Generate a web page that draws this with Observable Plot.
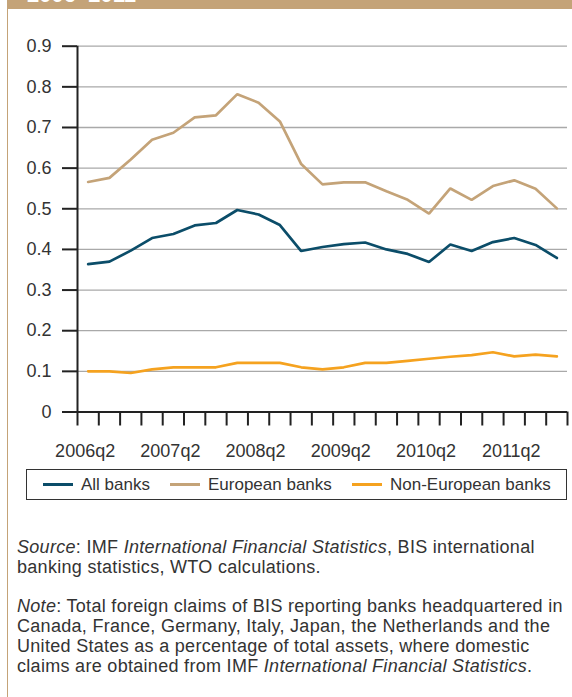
<!DOCTYPE html>
<html>
<head>
<meta charset="utf-8">
<script src="https://cdn.jsdelivr.net/npm/d3@7"></script>
<script src="https://cdn.jsdelivr.net/npm/@observablehq/plot@0.6"></script>
<style>
  html, body { margin: 0; padding: 0; background: #fff; }
  body { width: 572px; height: 697px; position: relative; overflow: hidden; font-family: "Liberation Sans", Arial, sans-serif; color: #333; }
  #banner { position: absolute; left: 7px; top: 0; width: 565px; height: 9px; background: #c4a378; overflow: hidden; }
  #banner span { position: absolute; left: 20px; top: -16px; font-size: 22px; line-height: 1; font-weight: bold; color: #fff; white-space: nowrap; }
  #leftrule { position: absolute; left: 7px; top: 0; width: 1px; height: 697px; background: #c4a378; z-index: 2; }
  #chart { position: absolute; left: 0; top: 0; }
  #legend { position: absolute; left: 26px; top: 469px; width: 539px; height: 29px; border: 1.5px solid #333; font-size: 17px; }
  .item { display: flex; align-items: center; position: absolute; top: 0; height: 29px; }
  .sw { width: 30px; height: 3px; margin-right: 8px; }
  #caption { position: absolute; left: 17px; top: 538px; width: 560px; font-size: 18px; letter-spacing: 0.3px; line-height: 19.7px; color: #333; white-space: nowrap; }
  #caption p { margin: 0 0 20px 0; }
</style>
</head>
<body>
<div id="banner"><span>2006–2011</span></div>
<div id="leftrule"></div>
<div id="chart"></div>
<div id="legend"></div>
<div id="caption">
  <p><i>Source</i>: IMF <i>International Financial Statistics</i>, BIS international<br>banking statistics, WTO calculations.</p>
  <p><i>Note</i>: Total foreign claims of BIS reporting banks headquartered in<br>Canada, France, Germany, Italy, Japan, the Netherlands and the<br>United States as a percentage of total assets, where domestic<br>claims are obtained from IMF <i>International Financial Statistics</i>.</p>
</div>
<script>
const quarters = ["2006q2","2006q3","2006q4","2007q1","2007q2","2007q3","2007q4","2008q1","2008q2","2008q3","2008q4","2009q1","2009q2","2009q3","2009q4","2010q1","2010q2","2010q3","2010q4","2011q1","2011q2","2011q3","2011q4"];
const allBanks = [0.364,0.370,0.397,0.428,0.438,0.459,0.465,0.497,0.486,0.460,0.396,0.406,0.413,0.417,0.400,0.389,0.369,0.412,0.396,0.418,0.428,0.411,0.379];
const europeanBanks = [0.566,0.576,0.621,0.670,0.687,0.725,0.730,0.782,0.761,0.715,0.610,0.560,0.565,0.565,0.543,0.522,0.488,0.550,0.522,0.556,0.570,0.549,0.501];
const nonEuropeanBanks = [0.100,0.100,0.096,0.105,0.110,0.110,0.110,0.121,0.121,0.121,0.110,0.105,0.110,0.121,0.121,0.126,0.131,0.136,0.140,0.147,0.137,0.141,0.137];
const seriesNames = ["All banks","European banks","Non-European banks"];
const seriesColors = ["#0b4d69","#c4a378","#f5a21f"];
const yTicks = [0,0.1,0.2,0.3,0.4,0.5,0.6,0.7,0.8,0.9];
const xLabelQuarters = ["2006q2","2007q2","2008q2","2009q2","2010q2","2011q2"];

const seriesValues = [allBanks, europeanBanks, nonEuropeanBanks];
const data = [];
seriesNames.forEach((s, k) => seriesValues[k].forEach((v, i) => data.push({series: s, i, v})));
const n = quarters.length;
const boundaries = d3.range(n + 1).map(i => i - 0.5);
const labelIdx = xLabelQuarters.map(q => quarters.indexOf(q));

const plot = Plot.plot({
  width: 572,
  height: 465,
  marginTop: 45.7,
  marginBottom: 53.5,
  marginLeft: 77,
  marginRight: 5,
  style: {fontFamily: "Liberation Sans, Arial, sans-serif", fontSize: "18px", color: "#333", background: "transparent", overflow: "visible"},
  x: {type: "linear", domain: [-0.5, n - 0.5]},
  y: {domain: [0, 0.9]},
  color: {domain: seriesNames, range: seriesColors},
  marks: [
    Plot.ruleY(yTicks.filter(d => d > 0), {stroke: "#a9a9a9", strokeWidth: 1.3}),
    Plot.line(data, {x: "i", y: "v", stroke: "series", strokeWidth: 2.7, strokeLinejoin: "miter"}),
    Plot.ruleY([0], {stroke: "#222", strokeWidth: 2}),
    Plot.ruleX([-0.5], {y1: 0, y2: 0.9, stroke: "#222", strokeWidth: 2}),
    Plot.axisY({ticks: yTicks, tickSize: 15, tickPadding: 11, tickFormat: d => d === 0 ? "0" : d.toFixed(1), stroke: "#222", strokeWidth: 2, label: null}),
    Plot.axisX({ticks: boundaries, tickSize: 14, tickFormat: () => "", stroke: "#222", strokeWidth: 2, label: null}),
    Plot.axisX({ticks: labelIdx, tickSize: 0, tickPadding: 32, dx: -3, tickFormat: i => quarters[i], label: null})
  ]
});
document.getElementById("chart").appendChild(plot);

const legend = document.getElementById("legend");
const offsets = [16, 143, 325];
seriesNames.forEach((s, k) => {
  const it = document.createElement("div");
  it.className = "item";
  it.style.left = offsets[k] + "px";
  const sw = document.createElement("div");
  sw.className = "sw";
  sw.style.background = seriesColors[k];
  const t = document.createElement("span");
  t.textContent = s;
  it.appendChild(sw); it.appendChild(t);
  legend.appendChild(it);
});
</script>
</body>
</html>
